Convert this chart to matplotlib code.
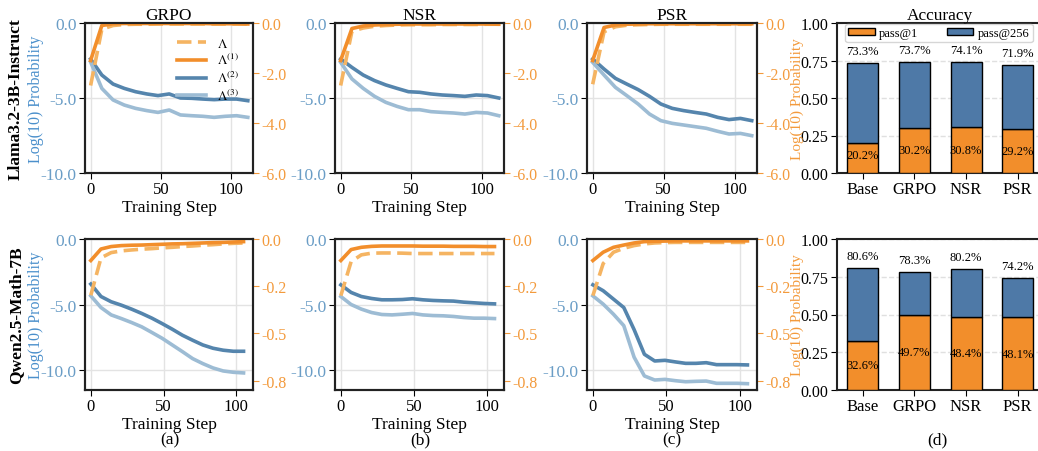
import numpy as np
import matplotlib
matplotlib.use("Agg")
import matplotlib.pyplot as plt

plt.rcParams['font.family'] = ['Liberation Serif', 'DejaVu Serif']
plt.rcParams['mathtext.fontset'] = 'stix'

# ---------------- data ----------------
steps_llama = [0, 8, 16, 24, 32, 40, 48, 56, 64, 72, 80, 88, 96, 104, 112]
steps_qwen = [0, 7, 14, 21, 28, 35, 42, 49, 56, 63, 70, 77, 84, 91, 98, 105]

# Llama3.2-3B-Instruct (Lambda / Lambda1 on right axis, Lambda2 / Lambda3 on left axis)
llama_grpo_L = [-2.50, -0.25, -0.10, -0.06, -0.05, -0.05, -0.04, -0.04, -0.04, -0.04, -0.04, -0.04, -0.04, -0.04, -0.04]
llama_grpo_L1 = [-1.50, -0.10, -0.03, -0.02, -0.02, -0.02, -0.02, -0.02, -0.02, -0.02, -0.02, -0.03, -0.03, -0.03, -0.04]
llama_grpo_L2 = [-2.40, -3.47, -4.07, -4.36, -4.58, -4.73, -4.84, -4.73, -5.00, -5.02, -5.07, -5.11, -5.07, -5.07, -5.18]
llama_grpo_L3 = [-2.60, -4.36, -5.13, -5.47, -5.69, -5.84, -5.96, -5.80, -6.13, -6.18, -6.22, -6.29, -6.22, -6.18, -6.29]

llama_nsr_L = [-2.50, -0.33, -0.20, -0.13, -0.10, -0.08, -0.07, -0.07, -0.07, -0.06, -0.06, -0.06, -0.06, -0.05, -0.05]
llama_nsr_L1 = [-1.50, -0.22, -0.12, -0.08, -0.06, -0.05, -0.04, -0.04, -0.04, -0.04, -0.04, -0.04, -0.04, -0.04, -0.05]
llama_nsr_L2 = [-2.40, -2.96, -3.47, -3.84, -4.13, -4.36, -4.58, -4.62, -4.73, -4.80, -4.84, -4.89, -4.80, -4.84, -5.00]
llama_nsr_L3 = [-2.62, -3.73, -4.36, -4.89, -5.29, -5.56, -5.78, -5.78, -5.91, -5.96, -6.00, -6.07, -5.96, -6.00, -6.18]

llama_psr_L = [-2.45, -0.35, -0.15, -0.09, -0.07, -0.06, -0.05, -0.05, -0.05, -0.05, -0.05, -0.05, -0.05, -0.05, -0.05]
llama_psr_L1 = [-1.50, -0.18, -0.08, -0.05, -0.04, -0.03, -0.03, -0.03, -0.03, -0.03, -0.03, -0.03, -0.03, -0.03, -0.03]
llama_psr_L2 = [-2.40, -3.07, -3.69, -4.07, -4.44, -4.89, -5.40, -5.69, -5.84, -5.96, -6.07, -6.29, -6.44, -6.36, -6.51]
llama_psr_L3 = [-2.62, -3.47, -4.29, -4.84, -5.40, -6.07, -6.51, -6.69, -6.80, -6.91, -7.02, -7.22, -7.40, -7.36, -7.51]

# Qwen2.5-Math-7B
qwen_grpo_L = [-0.298, -0.100, -0.072, -0.063, -0.058, -0.054, -0.051, -0.047, -0.044, -0.040, -0.037, -0.033, -0.030, -0.026, -0.023, -0.021]
qwen_grpo_L1 = [-0.114, -0.053, -0.040, -0.035, -0.033, -0.032, -0.030, -0.028, -0.026, -0.025, -0.023, -0.021, -0.019, -0.018, -0.016, -0.014]
qwen_grpo_L2 = [-3.43, -4.38, -4.78, -5.04, -5.34, -5.67, -6.03, -6.44, -6.87, -7.33, -7.71, -8.07, -8.32, -8.47, -8.55, -8.55]
qwen_grpo_L3 = [-4.33, -5.22, -5.78, -6.06, -6.36, -6.69, -7.12, -7.56, -8.07, -8.58, -9.11, -9.49, -9.82, -10.05, -10.15, -10.20]

qwen_nsr_L = [-0.300, -0.120, -0.084, -0.075, -0.074, -0.074, -0.075, -0.077, -0.077, -0.077, -0.077, -0.077, -0.077, -0.077, -0.077, -0.077]
qwen_nsr_L1 = [-0.114, -0.056, -0.044, -0.039, -0.037, -0.037, -0.037, -0.037, -0.038, -0.038, -0.038, -0.039, -0.039, -0.039, -0.040, -0.040]
qwen_nsr_L2 = [-3.49, -4.07, -4.38, -4.53, -4.63, -4.63, -4.61, -4.55, -4.63, -4.68, -4.71, -4.73, -4.81, -4.86, -4.91, -4.94]
qwen_nsr_L3 = [-4.38, -4.99, -5.34, -5.60, -5.75, -5.78, -5.73, -5.67, -5.78, -5.83, -5.85, -5.90, -5.98, -6.03, -6.03, -6.06]

qwen_psr_L = [-0.300, -0.130, -0.070, -0.049, -0.035, -0.026, -0.021, -0.019, -0.018, -0.018, -0.018, -0.018, -0.018, -0.018, -0.018, -0.018]
qwen_psr_L1 = [-0.114, -0.070, -0.044, -0.032, -0.021, -0.014, -0.012, -0.011, -0.010, -0.010, -0.010, -0.010, -0.010, -0.010, -0.010, -0.010]
qwen_psr_L2 = [-3.49, -3.94, -4.58, -5.22, -6.90, -8.78, -9.29, -9.24, -9.36, -9.47, -9.47, -9.42, -9.57, -9.57, -9.57, -9.59]
qwen_psr_L3 = [-4.33, -4.96, -5.73, -6.60, -9.00, -10.43, -10.74, -10.69, -10.79, -10.87, -10.84, -10.82, -10.99, -10.99, -10.99, -11.02]

bar_methods = ['Base', 'GRPO', 'NSR', 'PSR']
llama_pass1 = [20.2, 30.2, 30.8, 29.2]
llama_pass256 = [73.3, 73.7, 74.1, 71.9]
qwen_pass1 = [32.6, 49.7, 48.4, 48.1]
qwen_pass256 = [80.6, 78.3, 80.2, 74.2]

method_titles = ['GRPO', 'NSR', 'PSR']
model_names = ['Llama3.2-3B-Instruct', 'Qwen2.5-Math-7B']

# ---------------- styles ----------------
c_L = '#f5b462'
c_L1 = '#f28e2b'
c_L2 = '#5585ad'
c_L3 = '#9dbcd4'
c_blue_txt = '#6a9dc6'
c_orange_txt = '#f39a3c'
c_bar_orange = '#f28e2b'
c_bar_blue = '#4e79a7'

W, H = 1038, 452
fig = plt.figure(figsize=(W / 100, H / 100), dpi=100)

def fx(px):
    return px / W

def fy(top, bottom):
    return 1 - bottom / H, (bottom - top) / H

rows = [
    dict(steps=steps_llama, top=24, bottom=174, left_lim=(-10, 0), right_lim=(-6, 0),
         right_ticks=[0, -2, -4, -6], xlim=(-4, 115.7),
         lines=[(llama_grpo_L, llama_grpo_L1, llama_grpo_L2, llama_grpo_L3),
                (llama_nsr_L, llama_nsr_L1, llama_nsr_L2, llama_nsr_L3),
                (llama_psr_L, llama_psr_L1, llama_psr_L2, llama_psr_L3)],
         pass1=llama_pass1, pass256=llama_pass256),
    dict(steps=steps_qwen, top=240, bottom=391, left_lim=(-11.5, 0), right_lim=(-0.8, 0),
         right_ticks=[0, -0.25, -0.5, -0.75], xlim=(-4, 111.5),
         lines=[(qwen_grpo_L, qwen_grpo_L1, qwen_grpo_L2, qwen_grpo_L3),
                (qwen_nsr_L, qwen_nsr_L1, qwen_nsr_L2, qwen_nsr_L3),
                (qwen_psr_L, qwen_psr_L1, qwen_psr_L2, qwen_psr_L3)],
         pass1=qwen_pass1, pass256=qwen_pass256),
]
col_px = [(85, 253), (335, 504), (587, 757)]

for r, row in enumerate(rows):
    b, h = fy(row['top'], row['bottom'])
    ymid = 1 - (row['top'] + row['bottom']) / 2 / H
    for c, (x0, x1) in enumerate(col_px):
        ax = fig.add_axes([fx(x0), b, fx(x1 - x0), h])
        ax2 = ax.twinx()
        L, L1, L2, L3 = row['lines'][c]
        x = row['steps']
        ax.plot(x, L2, color=c_L2, lw=2.6, label=r'$\Lambda^{(2)}$')
        ax.plot(x, L3, color=c_L3, lw=2.6, label=r'$\Lambda^{(3)}$')
        hL, = ax2.plot(x, L, color=c_L, lw=2.6, ls=(0, (4, 1.8)), label=r'$\Lambda$')
        hL1, = ax2.plot(x, L1, color=c_L1, lw=2.6, label=r'$\Lambda^{(1)}$')
        ax.set_ylim(*row['left_lim'])
        ax.set_yticks([0, -5, -10])
        ax.set_yticklabels(['0.0', '-5.0', '-10.0'])
        ax2.set_ylim(*row['right_lim'])
        ax2.set_yticks(row['right_ticks'])
        ax2.set_yticklabels(['%.1f' % v for v in row['right_ticks']])
        ax.set_xlim(*row['xlim'])
        ax.set_xticks([0, 50, 100])
        ax.grid(True, color='#e3e3e3', lw=1)
        ax.tick_params(axis='y', labelcolor=c_blue_txt, labelsize=12.5, length=4, pad=2)
        ax.tick_params(axis='x', labelsize=12, length=4, pad=2)
        ax2.tick_params(axis='y', colors=c_orange_txt, labelsize=11.5, length=4, pad=2)
        for sp in list(ax.spines.values()) + list(ax2.spines.values()):
            sp.set_linewidth(1.5)
            sp.set_color('#222222')
        ax.set_xlabel('Training Step', fontsize=12.5, labelpad=1)
        if r == 0:
            ax.set_title(method_titles[c], fontsize=12.5, pad=3)
        if c == 2:
            fig.text(fx(797), ymid, 'Log(10) Probability', rotation=90, ha='center', va='center',
                     fontsize=11, color=c_orange_txt)
        if r == 0 and c == 0:
            handles = [hL, hL1] + ax.get_lines()
            ax2.legend(handles, [hh.get_label() for hh in handles], loc='upper right',
                       frameon=False, fontsize=9.5, handlelength=2.2, labelspacing=0.2,
                       borderaxespad=0.3, bbox_to_anchor=(0.97, 0.97))

    # accuracy bars
    axb = fig.add_axes([fx(837), b, fx(1043.5 - 837), h])
    xb = np.arange(len(bar_methods))
    p1 = np.array(row['pass1']) / 100
    p256 = np.array(row['pass256']) / 100
    axb.bar(xb, p1, width=0.6, color=c_bar_orange, edgecolor='black', lw=1, label='pass@1', zorder=3)
    axb.bar(xb, p256 - p1, bottom=p1, width=0.6, color=c_bar_blue, edgecolor='black', lw=1,
            label='pass@256', zorder=3)
    for i in range(len(bar_methods)):
        axb.text(xb[i], max(p1[i] / 2, 0.12), '%.1f%%' % row['pass1'][i], ha='center', va='center',
                 fontsize=9, zorder=4)
        axb.text(xb[i], p256[i] + 0.04, '%.1f%%' % row['pass256'][i], ha='center', va='bottom',
                 fontsize=9, zorder=4)
    axb.set_xlim(-0.5, 3.5)
    axb.set_ylim(0, 1.0)
    axb.set_yticks([0, 0.25, 0.5, 0.75, 1.0])
    axb.set_xticks(xb)
    axb.set_xticklabels(bar_methods)
    axb.tick_params(axis='y', labelsize=11.5, length=4, pad=2)
    axb.tick_params(axis='x', labelsize=12, length=4, pad=2)
    axb.yaxis.grid(True, ls='--', color='#e0e0e0', lw=1)
    axb.set_axisbelow(True)
    for sp in axb.spines.values():
        sp.set_linewidth(1.5)
        sp.set_color('#222222')
    if r == 0:
        axb.set_title('Accuracy', fontsize=12.5, pad=3)
        axb.legend(loc='upper left', ncol=2, fontsize=9, handlelength=2.1, handleheight=0.6,
                   handletextpad=0.35, columnspacing=2.3, borderpad=0.25, borderaxespad=0,
                   bbox_to_anchor=(0.04, 0.995))

    # row labels
    fig.text(fx(16), ymid, model_names[r], rotation=90, ha='center', va='center',
             fontsize=12.5, fontweight='bold')
    fig.text(fx(36), ymid, 'Log(10) Probability', rotation=90, ha='center', va='center',
             fontsize=11.5, color='#4a8fcb')

for lab, px in zip(['(a)', '(b)', '(c)', '(d)'], [170, 420, 672, 937]):
    fig.text(fx(px), 1 - 440 / H, lab, ha='center', va='center', fontsize=12.5)

fig.savefig('out.png', dpi=100)
